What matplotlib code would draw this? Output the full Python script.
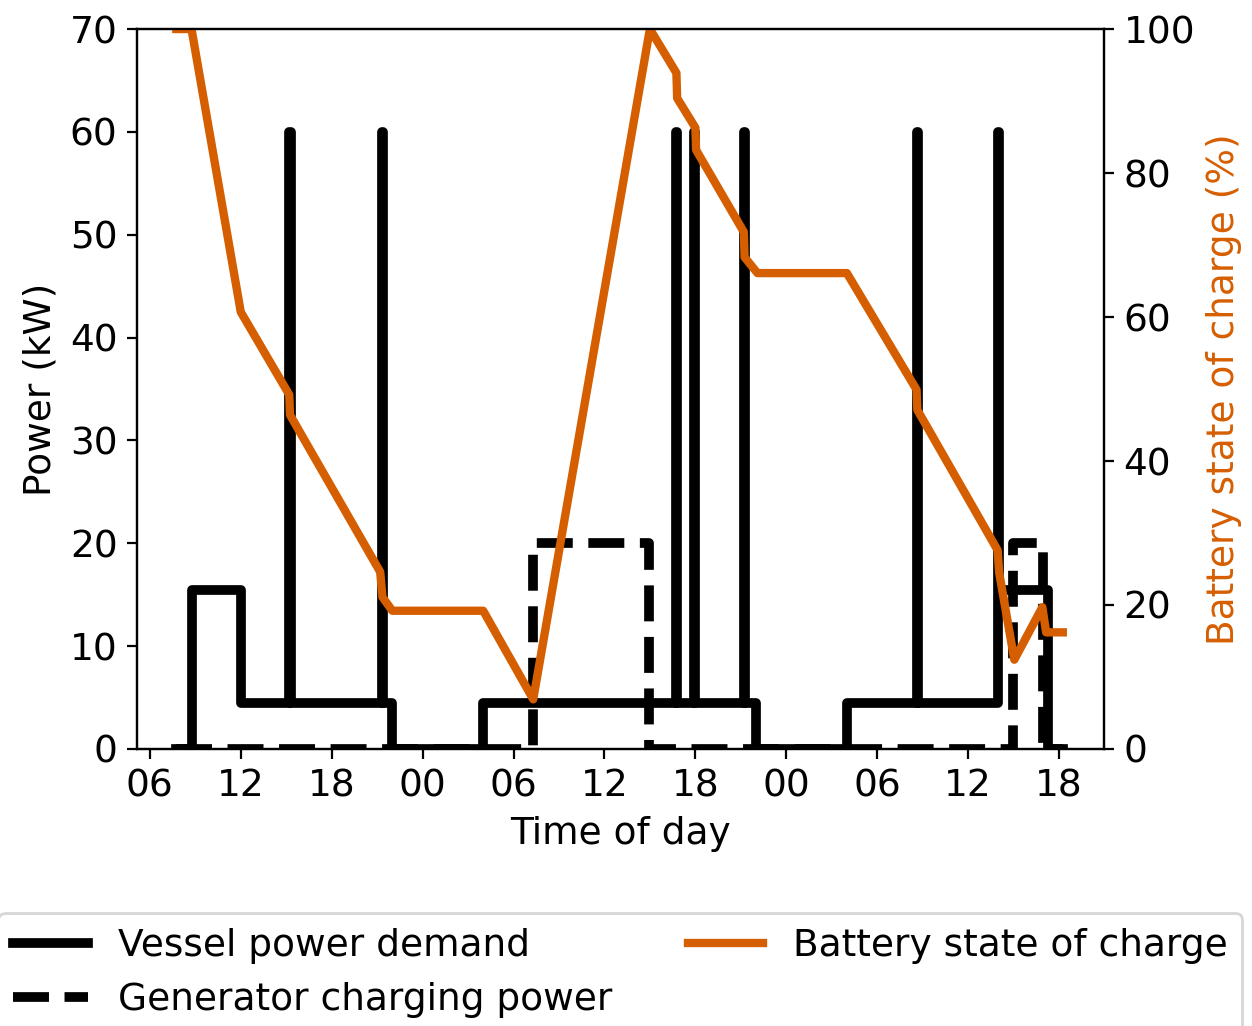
from matplotlib import pyplot as plt

# times in hours from midnight of day 1
demand_t = [7.75, 8.75, 12.0, 15.2, 15.3, 21.3, 21.4, 22.0, 28.0, 40.7, 40.8, 41.9, 42.0,
            45.2, 45.3, 46.0, 52.0, 56.6, 56.7, 61.95, 62.05, 65.25, 66.25]
demand_kw = [0, 15.5, 4.5, 60, 4.5, 60, 4.5, 0, 4.5, 60, 4.5, 60, 4.5,
             60, 4.5, 0, 4.5, 60, 4.5, 60, 15.5, 0, 0]

gen_t = [7.75, 31.3, 38.95, 62.95, 64.95, 66.25]
gen_kw = [0, 20, 0, 20, 0, 0]

soc_t = [7.75, 8.75, 12.0, 15.2, 15.25, 21.2, 21.35, 22.0, 28.0, 31.3, 39.0, 40.75, 40.8,
         42.0, 42.05, 45.2, 45.25, 46.1, 52.0, 56.6, 56.65, 61.95, 62.05, 63.05, 64.9,
         65.15, 66.25]
soc_pct = [100, 100, 60.7, 49.2, 46.4, 24.6, 21.1, 19.2, 19.2, 6.9, 100, 93.9, 90.4,
           86.3, 83.2, 71.8, 68.3, 66.1, 66.1, 49.9, 47.1, 27.6, 24.5, 12.4, 19.7,
           16.2, 16.2]

tick_pos = [6, 12, 18, 24, 30, 36, 42, 48, 54, 60, 66]
tick_lab = ["06", "12", "18", "00", "06", "12", "18", "00", "06", "12", "18"]

orange = "#d55e00"
plt.rcParams["font.size"] = 13.5

fig = plt.figure(figsize=(6.26, 5.13), dpi=200)
ax = fig.add_axes([0.1094, 0.270, 0.7724, 0.7017])
ax2 = ax.twinx()

l1, = ax.step(demand_t, demand_kw, where="post", color="black", lw=3.5,
              label="Vessel power demand")
l2, = ax.step(gen_t, gen_kw, where="post", color="black", lw=3.5, ls="--",
              label="Generator charging power")
l3, = ax2.plot(soc_t, soc_pct, color=orange, lw=3, label="Battery state of charge")

ax.set_xlim(5.15, 68.97)
ax.set_ylim(0, 70)
ax2.set_ylim(0, 100)
ax.set_xticks(tick_pos)
ax.set_xticklabels(tick_lab)
ax.set_xlabel("Time of day")
ax.set_ylabel("Power (kW)")
ax2.set_ylabel("Battery state of charge (%)", color=orange)

fig.legend([l1, l2, l3], [l.get_label() for l in (l1, l2, l3)],
           loc="upper center", bbox_to_anchor=(0.4955, 0.1287), ncol=2)

fig.savefig("out.png", dpi=200)
